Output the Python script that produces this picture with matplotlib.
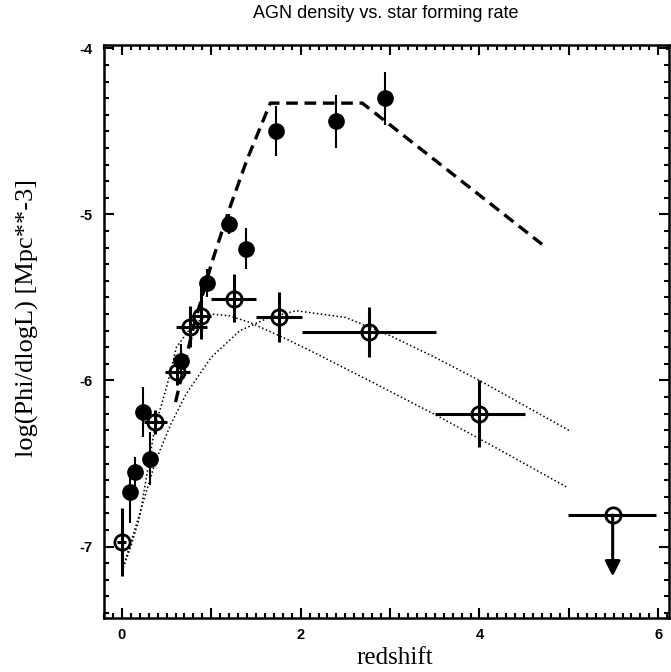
import matplotlib
matplotlib.use("Agg")
import matplotlib.pyplot as plt
from matplotlib.ticker import MultipleLocator, FixedLocator, FuncFormatter
import numpy as np

# ---------------- data ----------------
# filled circles (vertical errors only)
fill_z = [0.09, 0.15, 0.24, 0.31, 0.66, 0.95, 1.20, 1.39, 1.72, 2.39, 2.94]
fill_y = [-6.67, -6.55, -6.19, -6.47, -5.88, -5.41, -5.06, -5.21, -4.50, -4.44, -4.30]
fill_ylo = [0.19, 0.09, 0.15, 0.16, 0.08, 0.09, 0.06, 0.12, 0.15, 0.16, 0.16]
fill_yhi = [0.13, 0.09, 0.15, 0.16, 0.10, 0.08, 0.06, 0.13, 0.15, 0.16, 0.16]

# open circles with crosses (x and y errors)
open_z = [0.00, 0.37, 0.62, 0.76, 0.88, 1.25, 1.76, 2.76, 4.00]
open_y = [-6.97, -6.25, -5.95, -5.68, -5.61, -5.51, -5.62, -5.71, -6.20]
open_xlo = [0.05, 0.12, 0.14, 0.16, 0.13, 0.25, 0.26, 0.75, 0.50]
open_xhi = [0.05, 0.14, 0.14, 0.19, 0.12, 0.25, 0.25, 0.75, 0.51]
open_ylo = [0.21, 0.07, 0.08, 0.12, 0.14, 0.14, 0.15, 0.15, 0.20]
open_yhi = [0.20, 0.07, 0.05, 0.13, 0.20, 0.15, 0.15, 0.15, 0.20]

# upper limit
ul_z = [5.49]
ul_y = [-6.81]
ul_xlo = [0.50]
ul_xhi = [0.49]

# dashed model (star formation rate)
dash_z = [0.60, 0.80, 1.00, 1.20, 1.40, 1.66, 2.69, 4.70]
dash_y = [-6.13, -5.68, -5.30, -4.97, -4.67, -4.33, -4.33, -5.18]

# dotted model A
dotA_z = [0.00, 0.20, 0.38, 0.55, 0.72, 1.00, 1.32, 1.65, 1.95, 2.50, 3.00, 3.50, 4.00, 4.50, 5.00]
dotA_y = [-7.15, -6.80, -6.48, -6.26, -6.08, -5.86, -5.70, -5.62, -5.58, -5.62, -5.73, -5.86, -6.00, -6.15, -6.30]

# dotted model B
dotB_z = [0.00, 0.10, 0.20, 0.30, 0.37, 0.50, 0.61, 0.80, 1.00, 1.20, 1.43, 1.80, 2.18, 2.80, 3.52, 4.20, 4.97]
dotB_y = [-7.15, -7.00, -6.82, -6.50, -6.28, -6.04, -5.80, -5.66, -5.60, -5.61, -5.65, -5.74, -5.84, -6.01, -6.21, -6.41, -6.64]

# ---------------- figure ----------------
W, H = 671, 672
fig = plt.figure(figsize=(W / 100, H / 100), dpi=100)
L, R, T, B = 104, 669, 45, 618
ax = fig.add_axes([L / W, 1 - B / H, (R - L) / W, (B - T) / H])

ax.plot(dotA_z, dotA_y, color="black", lw=1.1, ls=(0, (1, 1.6)))
ax.plot(dotB_z, dotB_y, color="black", lw=1.1, ls=(0, (1, 1.6)))
ax.plot(dash_z, dash_y, color="black", lw=2.4, ls=(0, (3.5, 2)))

ax.errorbar(fill_z, fill_y, yerr=[fill_ylo, fill_yhi], fmt="o", color="black",
            ms=11, elinewidth=1.5, capsize=0, zorder=5)

ax.errorbar(open_z, open_y, xerr=[open_xlo, open_xhi], yerr=[open_ylo, open_yhi],
            fmt="o", mfc="none", mec="black", mew=2.0, color="black",
            ms=11, elinewidth=2.2, capsize=0, zorder=6)

ax.errorbar(ul_z, ul_y, xerr=[ul_xlo, ul_xhi], fmt="o", mfc="none", mec="black",
            mew=2.0, color="black", ms=11, elinewidth=2.2, capsize=0, zorder=6)
for zz, yy in zip(ul_z, ul_y):
    ax.annotate("", xy=(zz, yy - 0.37), xytext=(zz, yy),
                arrowprops=dict(arrowstyle="-|>,head_length=0.9,head_width=0.45",
                                color="black", lw=2.2, shrinkA=0, shrinkB=0))

ax.set_xlim(-0.2, 6.12)
ax.set_ylim(-7.43, -3.98)

ax.xaxis.set_major_locator(FixedLocator([0, 1, 2, 3, 4, 5, 6]))
ax.xaxis.set_major_formatter(FuncFormatter(lambda v, p: "%d" % v if int(round(v)) % 2 == 0 else ""))
ax.xaxis.set_minor_locator(MultipleLocator(0.1))
ax.yaxis.set_major_locator(FixedLocator([-7, -6, -5, -4]))
ax.yaxis.set_major_formatter(FuncFormatter(lambda v, p: "%d" % v))
ax.yaxis.set_minor_locator(MultipleLocator(0.1))

ax.tick_params(which="both", direction="in", top=True, right=True, width=1.5, color="black")
ax.tick_params(which="major", length=7.5)
ax.tick_params(which="minor", length=3.5)
ax.tick_params(axis="x", which="major", pad=7)
ax.tick_params(axis="y", which="major", pad=8)
for lab in ax.get_xticklabels() + ax.get_yticklabels():
    lab.set_fontfamily("Liberation Sans")
    lab.set_fontweight("bold")
    lab.set_fontsize(10.5)
for s in ax.spines.values():
    s.set_linewidth(1.8)

fig.text(386 / W, 1 - 14 / H, "AGN density vs. star forming rate", ha="center", va="center",
         fontsize=13, family="Liberation Sans")
fig.text(27 / W, 1 - 318 / H, "log(Phi/dlogL) [Mpc**-3]", rotation=90, ha="center", va="center",
         fontsize=19, family="Liberation Serif")
fig.text(395 / W, 1 - 658 / H, "redshift", ha="center", va="center",
         fontsize=18, family="Liberation Serif")

fig.savefig("out.png", dpi=100)
